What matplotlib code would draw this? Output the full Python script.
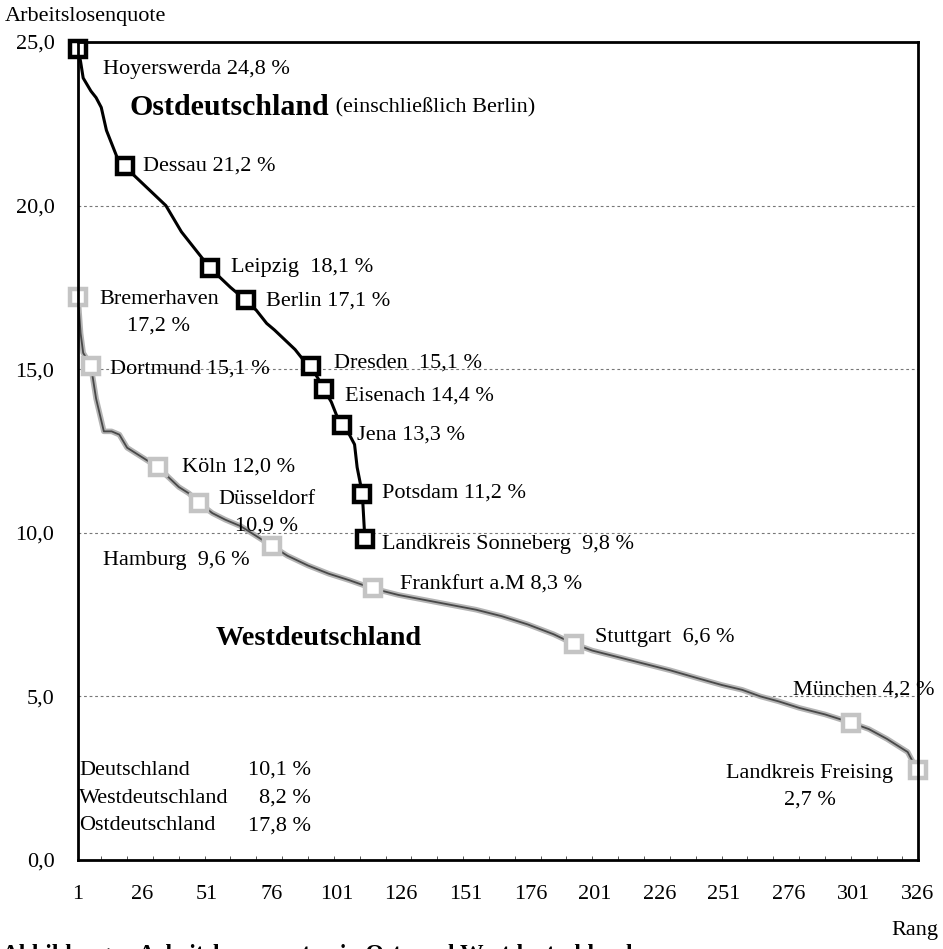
import matplotlib.pyplot as plt
from matplotlib.ticker import MultipleLocator

plt.rcParams['font.family'] = ['Liberation Serif', 'DejaVu Serif']

# Ostdeutschland (einschließlich Berlin): Rang und Arbeitslosenquote
east_rank = [1, 2, 3, 6, 8, 10, 12, 14, 16, 19, 23, 27, 31, 35, 38, 41, 45, 48,
             52, 56, 60, 63, 66, 70, 74, 77, 81, 85, 88, 91, 94, 96, 99, 101,
             103, 106, 108, 109, 111, 112]
east_val = [24.8, 24.4, 23.9, 23.5, 23.3, 23.0, 22.3, 21.9, 21.5, 21.2, 20.9,
            20.6, 20.3, 20.0, 19.6, 19.2, 18.8, 18.5, 18.1, 17.8, 17.5, 17.3,
            17.1, 16.8, 16.4, 16.2, 15.9, 15.6, 15.3, 15.1, 14.7, 14.4, 14.0,
            13.6, 13.3, 13.0, 12.7, 12.0, 11.2, 9.8]

# Westdeutschland
west_rank = [1, 2, 3, 6, 8, 11, 14, 17, 20, 24, 28, 32, 36, 40, 44, 48, 53,
             58, 64, 70, 76, 82, 90, 98, 106, 115, 125, 135, 145, 155, 165,
             175, 185, 193, 200, 210, 220, 230, 241, 250, 258, 265, 272, 280,
             290, 300, 307, 314, 318, 322, 324, 326]
west_val = [17.2, 16.1, 15.5, 15.1, 14.1, 13.1, 13.1, 13.0, 12.6, 12.4, 12.2,
            12.0, 11.7, 11.4, 11.2, 10.9, 10.6, 10.4, 10.2, 9.9, 9.6, 9.3, 9.0,
            8.75, 8.55, 8.3, 8.1, 7.95, 7.8, 7.65, 7.45, 7.2, 6.9, 6.6, 6.4,
            6.2, 6.0, 5.8, 5.55, 5.35, 5.2, 5.0, 4.85, 4.65, 4.45, 4.2, 4.0,
            3.7, 3.5, 3.3, 3.0, 2.75]

# markierte Kreise
east_city_rank = [1, 19, 52, 66, 91, 96, 103, 111, 112]
east_city_val = [24.8, 21.2, 18.1, 17.1, 15.1, 14.4, 13.3, 11.2, 9.8]
west_city_rank = [1, 6, 32, 48, 76, 115, 193, 300, 326]
west_city_val = [17.2, 15.1, 12.0, 10.9, 9.6, 8.3, 6.6, 4.2, 2.75]

# Beschriftungen: (Text, x, y, ha)
city_labels = [
    ('Hoyerswerda 24,8 %', 10.7, 24.15, 'left'),
    ('Dessau 21,2 %', 26.1, 21.2, 'left'),
    ('Leipzig  18,1 %', 60.2, 18.1, 'left'),
    ('Berlin 17,1 %', 73.7, 17.07, 'left'),
    ('Dresden  15,1 %', 100.0, 15.2, 'left'),
    ('Eisenach 14,4 %', 104.3, 14.18, 'left'),
    ('Jena 13,3 %', 109.0, 13.0, 'left'),
    ('Potsdam 11,2 %', 118.6, 11.2, 'left'),
    ('Landkreis Sonneberg  9,8 %', 118.6, 9.63, 'left'),
    ('Bremerhaven\n17,2 %', 32.3, 16.72, 'center'),
    ('Dortmund 15,1 %', 13.4, 15.0, 'left'),
    ('Köln 12,0 %', 41.2, 12.0, 'left'),
    ('Düsseldorf\n10,9 %', 74.1, 10.62, 'center'),
    ('Hamburg  9,6 %', 10.7, 9.15, 'left'),
    ('Frankfurt a.M 8,3 %', 125.6, 8.41, 'left'),
    ('Stuttgart  6,6 %', 201.0, 6.8, 'left'),
    ('München 4,2 %', 277.6, 5.18, 'left'),
    ('Landkreis Freising\n2,7 %', 284.2, 2.23, 'center'),
]

summary_names = ['Deutschland', 'Westdeutschland', 'Ostdeutschland']
summary_vals = ['10,1 %', '8,2 %', '17,8 %']

x_ticks = list(range(1, 327, 25))
y_ticks = [0, 5, 10, 15, 20, 25]

fig = plt.figure(figsize=(9.43, 9.49), dpi=100)
ax = fig.add_axes([78 / 943, 89 / 949, 840 / 943, 818 / 949])

# Gitterlinien
for v in [5, 10, 15, 20]:
    ax.axhline(v, color='#777777', lw=0.8, linestyle=(0, (2.5, 2.5)), zorder=1)

# Westdeutschland: grau
ax.plot(west_rank, west_val, color='#b4b4b4', lw=4.0, zorder=2,
        solid_capstyle='round')
ax.plot(west_rank, west_val, color='#484848', lw=1.3, zorder=3)
ax.plot(west_city_rank, west_city_val, 's', ms=11, mfc='white',
        mec='#c4c4c4', mew=3.2, zorder=4, clip_on=False)

# Ostdeutschland: schwarz
ax.plot(east_rank, east_val, color='black', lw=2.2, zorder=5)
ax.plot(east_city_rank, east_city_val, 's', ms=11, mfc='white',
        mec='black', mew=3.2, zorder=6, clip_on=False)

for txt, x, y, ha in city_labels:
    ax.text(x, y, txt, ha=ha, va='center', fontsize=16, multialignment='center',
            linespacing=1.55, zorder=7, clip_on=False)

t1 = ax.text(21.1, 23.0, 'Ostdeutschland', fontsize=21.5, fontweight='bold',
             va='center', ha='left')
ax.annotate(' (einschließlich Berlin)', xy=(1, 0.5), xycoords=t1,
            va='center', ha='left', fontsize=16)
ax.text(54.4, 6.77, 'Westdeutschland', fontsize=20.3, fontweight='bold',
        va='center', ha='left')

for i, (name, val) in enumerate(zip(summary_names, summary_vals)):
    y = 2.74 - i * 0.85
    ax.text(1.4, y, name, fontsize=16, va='center', ha='left')
    ax.text(91.1, y, val, fontsize=16, va='center', ha='right')

ax.set_xlim(1, 326)
ax.set_ylim(0, 25)
ax.set_xticks(x_ticks)
ax.set_xticklabels([str(t) for t in x_ticks], fontsize=16)
ax.set_yticks(y_ticks)
ax.set_yticklabels([f'{t},0' for t in y_ticks], fontsize=16)
ax.xaxis.set_minor_locator(MultipleLocator(10))
ax.tick_params(axis='x', which='major', length=0, pad=18)
ax.tick_params(axis='x', which='minor', direction='in', length=3, width=0.7,
               color='#555555')
ax.tick_params(axis='y', which='major', length=0, pad=17)
for s in ax.spines.values():
    s.set_linewidth(2.0)
    s.set_zorder(8)

fig.text(5 / 943, 1 - 17 / 949, 'Arbeitslosenquote', fontsize=16,
         ha='left', va='center')
fig.text(915 / 943, 1 - 930 / 949, 'Rang', fontsize=16, ha='center',
         va='center')
# Bildunterschrift, im Original unten abgeschnitten
fig.text(2 / 943, 5 / 949, 'Abbildung     Arbeitslosenquoten in Ost- und Westdeutschland',
         fontsize=17, fontweight='bold', ha='left', va='top')

fig.savefig('out.png', dpi=100)
